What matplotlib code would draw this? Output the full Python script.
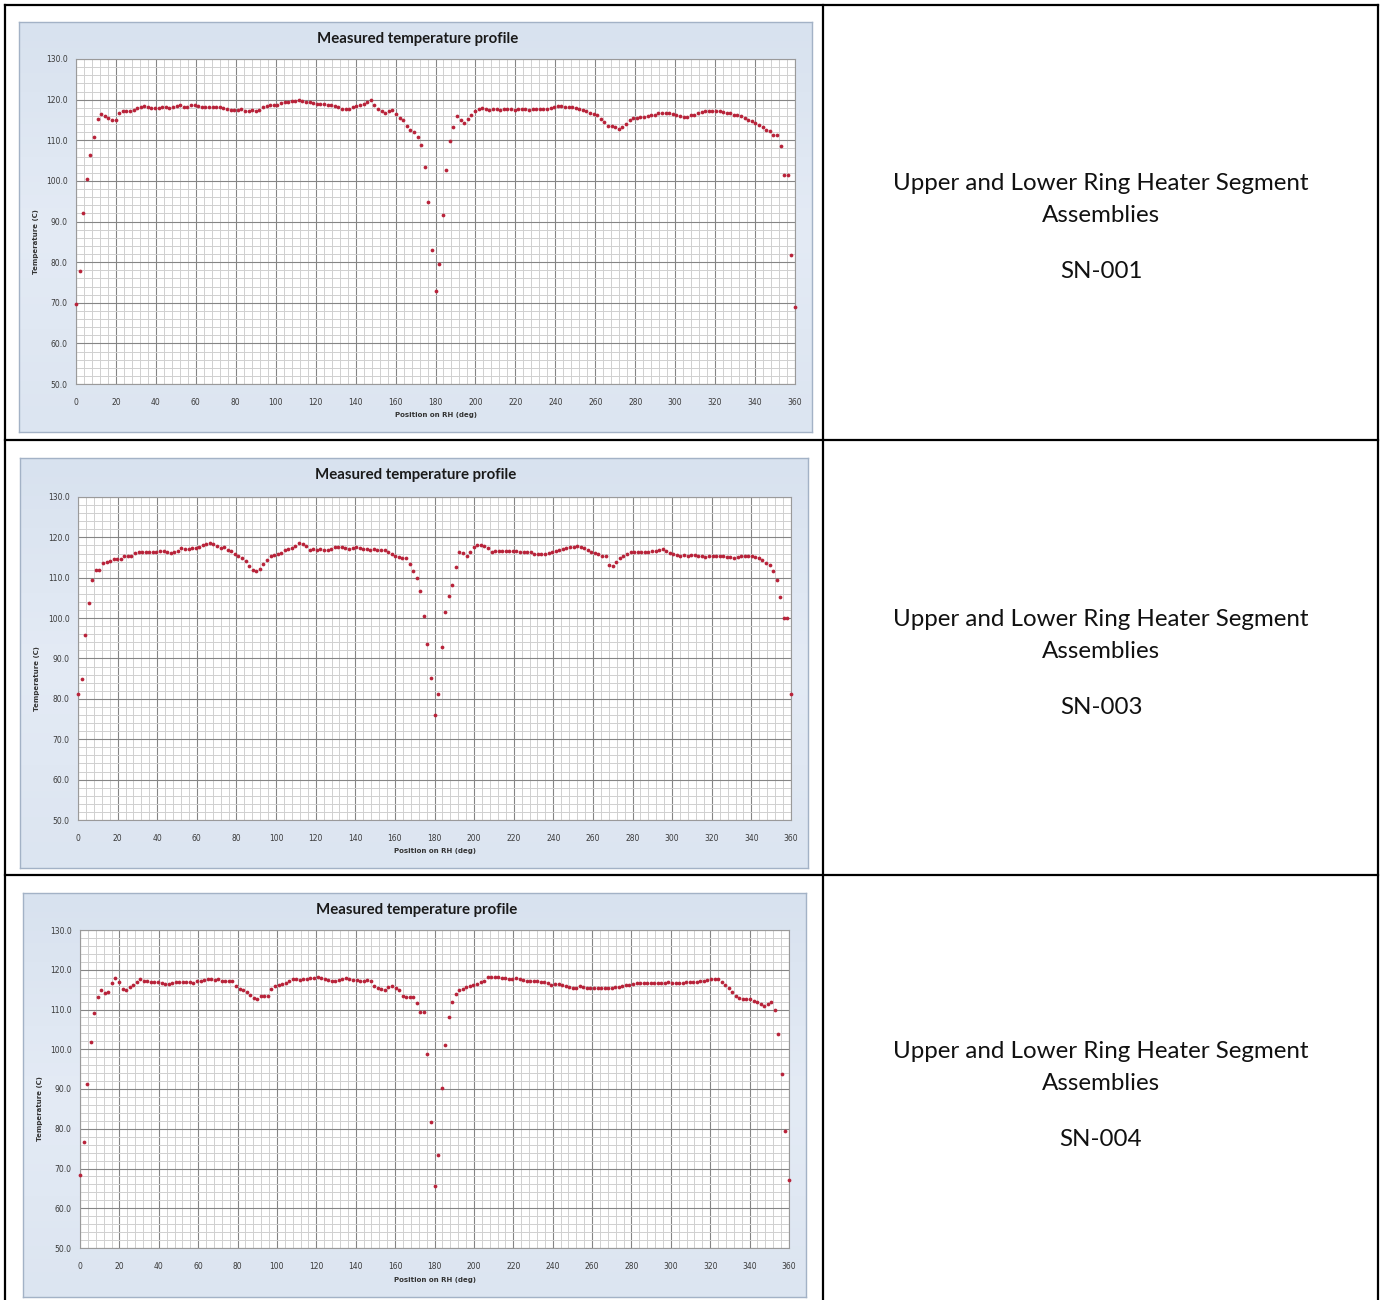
import matplotlib
matplotlib.use("Agg")
import matplotlib.pyplot as plt
import numpy as np
from matplotlib.lines import Line2D
from matplotlib.colors import LinearSegmentedColormap
from matplotlib.ticker import MultipleLocator, FormatStrFormatter

W, H = 1385, 1300

# thermocouple readings taken every 1.8 deg around the ring heater
step_deg = 1.8

sn001 = [69.8, 77.8, 92.1, 100.4, 106.3, 110.8, 115.2, 116.5, 116.0, 115.6,
         115.1, 115.0, 116.8, 117.3, 117.3, 117.3, 117.5, 117.9, 118.3, 118.5,
         118.3, 118.0, 117.9, 118.0, 118.1, 118.1, 118.0, 118.2, 118.5, 118.6,
         118.3, 118.3, 118.7, 118.8, 118.5, 118.2, 118.1, 118.3, 118.2, 118.3,
         118.1, 117.9, 117.7, 117.5, 117.4, 117.5, 117.7, 117.3, 117.2, 117.4,
         117.3, 117.5, 118.1, 118.4, 118.6, 118.7, 118.8, 119.1, 119.4, 119.5,
         119.6, 119.7, 119.8, 119.7, 119.5, 119.3, 119.1, 119.0, 118.9, 118.9,
         118.8, 118.6, 118.4, 118.1, 117.8, 117.6, 117.8, 118.2, 118.5, 118.8,
         119.0, 119.3, 120.0, 118.6, 117.7, 117.2, 116.6, 117.1, 117.4, 116.4,
         115.6, 115.0, 113.6, 112.6, 112.0, 110.7, 108.9, 103.3, 94.7, 83.0,
         72.9, 79.6, 91.6, 102.6, 109.8, 113.3, 116.0, 115.0, 114.3, 115.3,
         116.1, 117.2, 117.8, 117.9, 117.7, 117.5, 117.6, 117.7, 117.5, 117.6,
         117.7, 117.6, 117.5, 117.6, 117.7, 117.6, 117.5, 117.6, 117.7, 117.6,
         117.6, 117.8, 118.0, 118.2, 118.4, 118.4, 118.3, 118.2, 118.1, 118.0,
         117.8, 117.5, 117.3, 116.8, 116.4, 116.1, 115.3, 114.5, 113.6, 113.4,
         113.3, 112.7, 113.2, 114.1, 114.9, 115.4, 115.6, 115.8, 115.8, 116.0,
         116.1, 116.3, 116.6, 116.7, 116.6, 116.6, 116.4, 116.1, 115.9, 115.7,
         115.8, 116.1, 116.3, 116.6, 116.9, 117.1, 117.1, 117.2, 117.1, 117.1,
         116.9, 116.8, 116.6, 116.3, 116.1, 115.9, 115.6, 115.1, 114.7, 114.3,
         113.8, 113.2, 112.6, 112.2, 111.2, 111.2, 108.7, 101.5, 101.5, 81.7,
         69.0]

sn003 = [81.2, 84.8, 95.7, 103.7, 109.4, 111.8, 112.0, 113.6, 113.9, 114.2,
         114.7, 114.7, 114.7, 115.5, 115.3, 115.4, 116.2, 116.4, 116.4, 116.5,
         116.4, 116.4, 116.5, 116.6, 116.7, 116.5, 116.1, 116.5, 116.7, 117.4,
         117.2, 117.2, 117.3, 117.4, 117.5, 118.0, 118.3, 118.5, 118.3, 117.8,
         117.4, 117.7, 116.9, 116.6, 116.0, 115.5, 114.9, 114.1, 113.0, 112.0,
         111.6, 112.2, 113.4, 114.5, 115.3, 115.6, 116.0, 116.2, 116.8, 117.0,
         117.3, 117.8, 118.5, 118.3, 117.8, 116.9, 117.0, 116.9, 117.0, 116.9,
         116.9, 117.0, 117.6, 117.7, 117.6, 117.4, 117.1, 117.3, 117.7, 117.4,
         117.0, 117.0, 116.9, 117.0, 116.9, 116.9, 116.8, 116.4, 115.9, 115.4,
         115.2, 115.0, 115.0, 113.4, 111.6, 109.9, 106.8, 100.6, 93.7, 85.2,
         75.9, 81.2, 92.9, 101.5, 105.4, 108.3, 112.6, 116.4, 116.1, 115.5,
         116.5, 117.7, 118.0, 118.0, 117.9, 117.4, 116.5, 116.7, 116.7, 116.6,
         116.7, 116.7, 116.7, 116.6, 116.5, 116.4, 116.5, 116.3, 116.0, 115.9,
         115.9, 115.9, 116.1, 116.5, 116.7, 116.9, 117.1, 117.4, 117.6, 117.7,
         117.8, 117.7, 117.4, 116.9, 116.5, 116.1, 115.8, 115.5, 115.3, 113.1,
         112.8, 113.9, 115.0, 115.5, 115.9, 116.4, 116.3, 116.4, 116.5, 116.5,
         116.5, 116.6, 116.7, 116.8, 117.0, 116.6, 116.2, 115.9, 115.7, 115.5,
         115.6, 115.5, 115.7, 115.6, 115.4, 115.3, 115.2, 115.4, 115.5, 115.4,
         115.4, 115.3, 115.2, 115.1, 115.0, 115.2, 115.3, 115.5, 115.5, 115.5,
         115.2, 114.9, 114.4, 113.6, 113.2, 111.6, 109.4, 105.3, 100.0, 100.0,
         81.1]

sn004 = [68.3, 76.7, 91.2, 101.7, 109.2, 113.1, 114.8, 114.2, 114.3, 116.6,
         117.8, 117.0, 115.2, 114.8, 115.6, 116.2, 117.0, 117.7, 117.2, 117.1,
         117.0, 117.0, 117.0, 116.7, 116.3, 116.4, 116.6, 116.8, 117.0, 117.0,
         116.8, 117.0, 116.7, 117.2, 117.2, 117.5, 117.6, 117.7, 117.3, 117.7,
         117.2, 117.2, 117.2, 117.2, 116.0, 115.2, 114.8, 114.3, 113.7, 112.8,
         112.7, 113.5, 113.5, 113.5, 115.2, 115.8, 116.2, 116.4, 116.7, 117.2,
         117.7, 117.7, 117.5, 117.7, 117.7, 117.8, 118.0, 118.1, 117.8, 117.7,
         117.5, 117.2, 117.2, 117.4, 117.7, 117.9, 117.7, 117.5, 117.3, 117.2,
         117.2, 117.3, 117.2, 115.8, 115.5, 115.2, 114.9, 115.6, 116.0, 115.4,
         115.0, 113.5, 113.1, 113.1, 113.1, 111.7, 109.3, 109.3, 98.9, 81.7,
         65.6, 73.5, 90.2, 101.0, 108.2, 111.8, 113.9, 114.8, 115.2, 115.6,
         115.8, 116.2, 116.4, 116.8, 117.2, 118.1, 118.2, 118.2, 118.2, 118.0,
         117.8, 117.7, 117.7, 117.8, 117.7, 117.5, 117.2, 117.2, 117.2, 117.2,
         117.0, 116.8, 116.7, 116.2, 116.3, 116.3, 116.2, 115.8, 115.6, 115.3,
         115.5, 115.8, 115.7, 115.5, 115.5, 115.4, 115.4, 115.5, 115.3, 115.5,
         115.5, 115.6, 115.7, 115.8, 116.2, 116.2, 116.4, 116.6, 116.7, 116.7,
         116.7, 116.7, 116.7, 116.7, 116.7, 116.7, 116.8, 116.6, 116.7, 116.7,
         116.7, 116.8, 117.0, 116.9, 116.8, 117.1, 117.2, 117.5, 117.6, 117.7,
         117.7, 117.0, 116.2, 115.4, 114.3, 113.3, 112.8, 112.7, 112.7, 112.7,
         112.2, 111.8, 111.4, 111.0, 111.4, 111.8, 109.8, 103.9, 93.8, 79.5,
         67.2]

serials = ["SN-001", "SN-003", "SN-004"]
profiles = [sn001, sn003, sn004]
item_lines = ["Upper and Lower Ring Heater Segment", "Assemblies"]

# pixel layout: chart frame, plot area, text row centre
frames = [(19, 22, 812, 432), (20, 458, 808, 868), (23, 893, 806, 1297)]
plot_areas = [(76, 59, 795, 384), (78, 497, 791, 820), (80, 930, 789, 1248)]
text_rows = [183, 619, 1051]


def box(x0, y0, x1, y1):
    return [x0 / W, 1 - y1 / H, (x1 - x0) / W, (y1 - y0) / H]


def fx(x):
    return x / W


def fy(y):
    return 1 - y / H


fig = plt.figure(figsize=(W / 100, H / 100), dpi=100)
fig.patch.set_facecolor("white")

panel_cmap = LinearSegmentedColormap.from_list("panel", ["#d8e2ef", "#e4ebf5", "#dce5f1"])
shade = np.linspace(0, 1, 64).reshape(-1, 1)

for frame, area, temps, sn, ty in zip(frames, plot_areas, profiles, serials, text_rows):
    bg = fig.add_axes(box(*frame))
    bg.imshow(shade, aspect="auto", cmap=panel_cmap, extent=[0, 1, 0, 1])
    bg.set_xticks([])
    bg.set_yticks([])
    for s in bg.spines.values():
        s.set_color("#a3b2c6")
        s.set_linewidth(1.0)

    ax = fig.add_axes(box(*area))
    ax.set_facecolor("white")
    pos = np.arange(len(temps)) * step_deg
    ax.plot(pos, temps, "o", ms=2.7, mew=0, color="#b8233a", clip_on=False, zorder=3)
    ax.set_xlim(0, 360)
    ax.set_ylim(50, 130)
    ax.xaxis.set_major_locator(MultipleLocator(20))
    ax.xaxis.set_minor_locator(MultipleLocator(4))
    ax.yaxis.set_major_locator(MultipleLocator(10))
    ax.yaxis.set_minor_locator(MultipleLocator(2))
    ax.yaxis.set_major_formatter(FormatStrFormatter("%.1f"))
    ax.grid(which="major", color="#858585", lw=0.8)
    ax.grid(which="minor", color="#d0d0d0", lw=0.7)
    ax.set_axisbelow(True)
    ax.tick_params(which="both", length=0, labelsize=5.5, labelcolor="#3a3a3a")
    ax.tick_params(axis="x", pad=10)
    ax.tick_params(axis="y", pad=6)
    for s in ax.spines.values():
        s.set_color("#9a9a9a")
        s.set_linewidth(0.8)

    cx = (area[0] + area[2]) / 2
    fig.text(fx((frame[0] + frame[2]) / 2 + 2), fy(frame[1] + 17), "Measured temperature profile",
             ha="center", va="center", fontsize=10.8, fontweight="bold", family="Lato", color="#1a1a1a")
    fig.text(fx(cx), fy(frame[3] - 17), "Position on RH (deg)", ha="center", va="center",
             fontsize=5, fontweight="bold", color="#333333")
    fig.text(fx(frame[0] + 17), fy((area[1] + area[3]) / 2 + 20), "Temperature (C)", rotation=90,
             ha="center", va="center", fontsize=5, fontweight="bold", color="#333333")

    # right-hand cell: item description and serial number
    for line, dy in zip(item_lines + [sn], (0, 32, 89)):
        fig.text(fx(1101), fy(ty + dy), line, ha="center", va="center", fontsize=17.4,
                 family="Lato", color="#111111")

# table rules
lw = 1.6
for x in (5, 823, 1378):
    fig.add_artist(Line2D([fx(x), fx(x)], [fy(5), 0], color="black", lw=lw))
for y in (5, 440, 875):
    fig.add_artist(Line2D([fx(5), fx(1378)], [fy(y), fy(y)], color="black", lw=lw))

fig.savefig("out.png", dpi=100, facecolor="white")
